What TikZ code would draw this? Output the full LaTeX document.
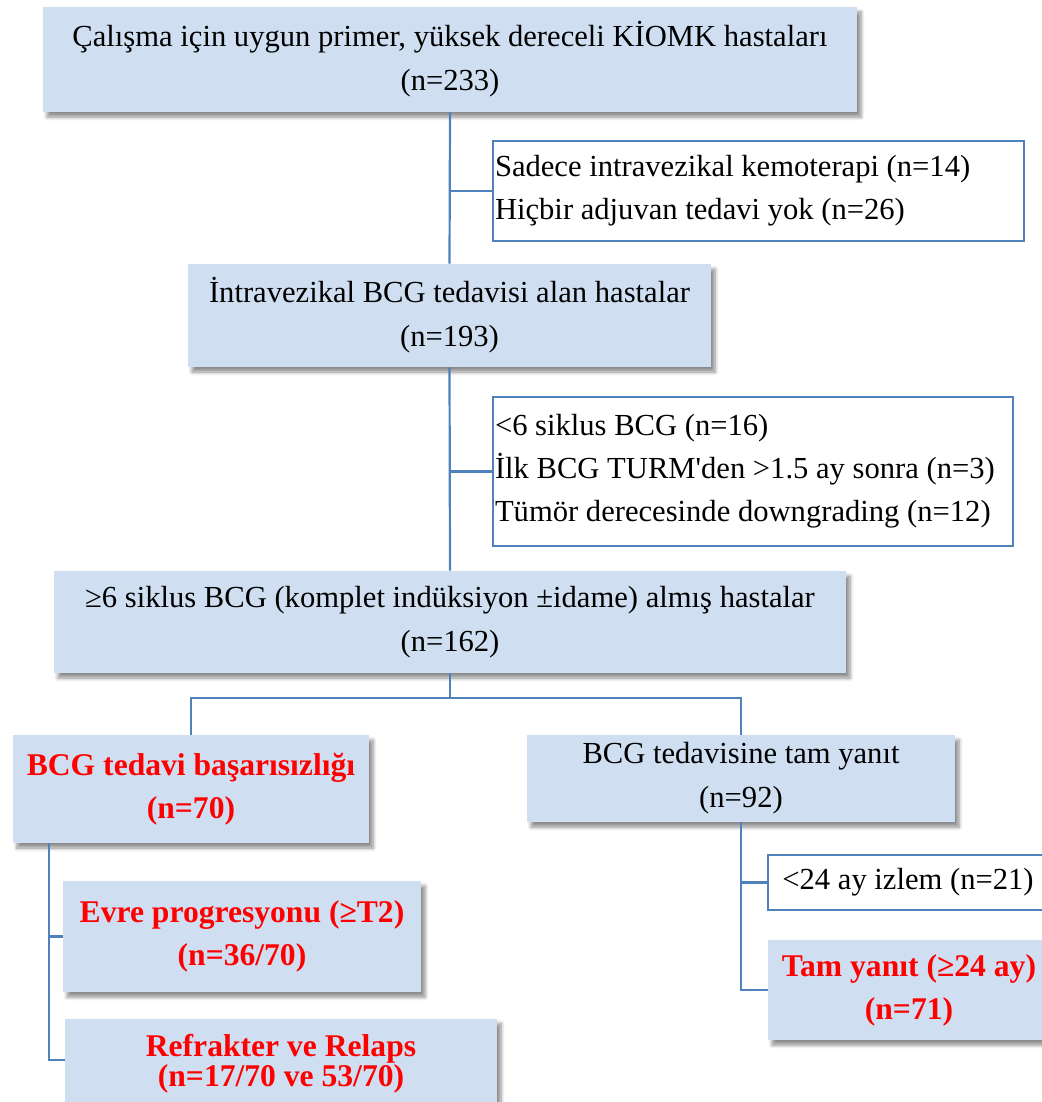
\documentclass[tikz,border=0pt]{standalone}
\usepackage{fontspec}
\setmainfont{Liberation Serif}
\usetikzlibrary{shadows.blur}
\definecolor{boxblue}{RGB}{207,223,241}
\definecolor{lineblue}{RGB}{79,129,189}
\definecolor{hired}{RGB}{255,0,0}
\tikzset{
  pbox/.style={fill=boxblue, align=center, inner sep=1pt,
    font=\fontsize{15.3}{22}\selectfont,
    blur shadow={shadow xshift=2pt, shadow yshift=-2.5pt, shadow blur steps=6, shadow opacity=45}},
  xbox/.style={draw=lineblue, line width=1pt, fill=white, align=flush left, inner sep=1pt,
    font=\fontsize{15.3}{21.5}\selectfont},
  hitext/.style={text=hired, font=\fontsize{15.8}{21.5}\selectfont\bfseries},
  link/.style={draw=lineblue, line width=1.1pt}
}

\begin{document}
\begin{tikzpicture}[x=0.5pt, y=-0.5pt]
\useasboundingbox (0,0) rectangle (1042,1102);
% main flow
\node[pbox, minimum width=407pt, minimum height=52.5pt] (elig) at (450,59.5)
  {Çalışma için uygun primer, yüksek dereceli KİOMK hastaları\\(n=233)};
\node[xbox, text width=263.5pt, minimum height=50pt] (exc1) at (758.5,191)
  {Sadece intravezikal kemoterapi (n=14)\\Hiçbir adjuvan tedavi yok (n=26)};
\node[pbox, minimum width=261.5pt, minimum height=51.5pt] (bcg) at (449.5,315.5)
  {İntravezikal BCG tedavisi alan hastalar\\(n=193)};
\node[xbox, text width=258pt, minimum height=74.5pt] (exc2) at (753,471.5)
  {<6 siklus BCG (n=16)\\İlk BCG TURM\textquotesingle den >1.5 ay sonra (n=3)\\Tümör derecesinde downgrading (n=12)};
\node[pbox, minimum width=396pt, minimum height=51pt] (six) at (450,622)
  {≥6 siklus BCG (komplet indüksiyon ±idame) almış hastalar\\(n=162)};
% two arms
\node[pbox, hitext, minimum width=178pt, minimum height=54pt] (fail) at (191,789)
  {BCG tedavi başarısızlığı\\(n=70)};
\node[pbox, minimum width=214pt, minimum height=43.5pt] (cr) at (741,778.5)
  {BCG tedavisine tam yanıt\\(n=92)};
\node[pbox, hitext, minimum width=179pt, minimum height=55.5pt] (prog) at (242,936.5)
  {Evre progresyonu (≥T2)\\(n=36/70)};
\node[pbox, hitext, minimum width=216pt, minimum height=45.5pt, font=\fontsize{15.8}{15}\selectfont\bfseries] (refr) at (281,1064)
  {Refrakter ve Relaps\\(n=17/70 ve 53/70)};
\node[xbox, align=center, minimum width=140pt, minimum height=27.5pt] (fu) at (908,882.5)
  {<24 ay izlem (n=21)};
\node[pbox, hitext, minimum width=141pt, minimum height=50pt] (tam) at (909,990)
  {Tam yanıt (≥24 ay)\\(n=71)};
% connectors
\draw[link] (elig.south) -- (bcg.north);
\draw[link] (exc1.west) -- (exc1.west -| elig.south);
\draw[link] (bcg.south) -- (six.north);
\draw[link] (exc2.west) -- (exc2.west -| bcg.south);
\draw[link] (six.south) -- ++(0,24.5) coordinate (split) -| (fail.north);
\draw[link] (split) -| (cr.north);
\draw[link] ([xshift=18pt]fail.south west) |- (prog.west);
\draw[link] ([xshift=18pt]fail.south west) |- ([yshift=2pt]refr.west);
\draw[link] (cr.south) |- (fu.west);
\draw[link] (cr.south) |- (tam.west);
\end{tikzpicture}
\end{document}
